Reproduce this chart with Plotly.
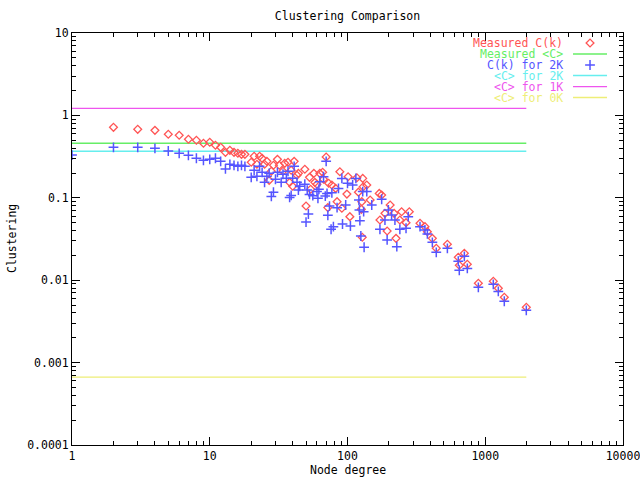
import plotly.graph_objects as go

# ---- data ----
meas_k = [2, 3, 4, 5, 6, 7, 8, 9, 10, 11, 12, 13, 14, 15, 16, 17, 18, 20, 21, 22, 23, 24, 25,
          26, 27, 28, 29, 31, 32, 34, 35, 37, 38, 39, 40, 41, 43, 44, 49, 50, 53, 54, 57, 58,
          60, 63, 66, 67, 70, 72, 73, 77, 82, 84, 88, 91, 99, 101, 104, 117, 120, 126, 127,
          128, 129, 130, 138, 146, 170, 172, 177, 187, 194, 204, 218, 225, 240, 247, 266, 281,
          336, 365, 380, 413, 441, 531, 637, 648, 705, 741, 891, 1144, 1244, 1375, 1986]
meas_c = [0.717, 0.678, 0.659, 0.59, 0.574, 0.513, 0.499, 0.459, 0.472, 0.434, 0.41, 0.356, 0.377,
          0.356, 0.347, 0.337, 0.337, 0.270, 0.319, 0.255, 0.319, 0.301, 0.255,
          0.277, 0.163, 0.210, 0.248, 0.293, 0.248, 0.210, 0.262, 0.270, 0.154, 0.216, 0.138,
          0.277, 0.188, 0.198, 0.222, 0.0794, 0.177, 0.127, 0.198, 0.154,
          0.146, 0.198, 0.204, 0.168, 0.313, 0.076, 0.150, 0.143, 0.130, 0.0897, 0.207, 0.0746,
          0.111, 0.180, 0.059, 0.175, 0.117, 0.0725, 0.0897,
          0.0332, 0.172, 0.136, 0.143, 0.094, 0.113, 0.0538, 0.108, 0.0648, 0.0396, 0.0818,
          0.0648, 0.0322, 0.0538, 0.0678, 0.0499, 0.0678,
          0.0491, 0.0446, 0.0388, 0.0322, 0.0244, 0.0273, 0.0190, 0.0152, 0.0212, 0.0156,
          0.00917, 0.0097, 0.0080, 0.0062, 0.00469]

k2_k = [1, 2, 3, 4, 5, 6, 7, 8, 9, 10, 11, 12, 13, 14, 15, 16, 17, 18, 20, 21, 22, 23, 24, 25,
        26, 27, 28, 29, 30, 31, 33, 34, 36, 37, 38, 39, 40, 41, 43, 44, 45, 49, 50, 51, 52, 53,
        56, 60, 61, 62, 63, 67, 69, 70, 71, 72, 74, 76, 77, 79, 84, 86, 91, 92, 97, 100, 105,
        109, 115, 121, 122, 123, 125, 129, 131, 132, 138, 150, 172, 177, 187, 194, 198, 209,
        221, 228, 240, 266, 276, 336, 365, 380, 413, 441, 531, 637, 648, 705, 741, 891, 1144,
        1244, 1375, 1986]
k2_c = [0.33, 0.41, 0.41, 0.399, 0.37, 0.347, 0.328, 0.302, 0.285, 0.293, 0.302, 0.277, 0.224,
        0.255, 0.248, 0.241, 0.248, 0.241, 0.177, 0.216, 0.182, 0.241, 0.204, 0.154,
        0.182, 0.198, 0.104, 0.117, 0.168, 0.204, 0.154, 0.193, 0.173, 0.210, 0.101, 0.107,
        0.173, 0.241, 0.154, 0.124, 0.138, 0.146, 0.0508, 0.124, 0.0636, 0.110,
        0.106, 0.119, 0.0986, 0.127, 0.157, 0.180, 0.105, 0.277, 0.113, 0.0614, 0.0794, 0.0415,
        0.115, 0.0446, 0.0759, 0.130, 0.172, 0.0481, 0.0818, 0.150, 0.0455,
        0.143, 0.172, 0.094, 0.0711, 0.0527, 0.0344, 0.119, 0.0678, 0.0251, 0.119, 0.0818,
        0.0415, 0.096, 0.0538, 0.0308, 0.0711, 0.0618,
        0.0538, 0.0255, 0.0415, 0.0427, 0.059, 0.0446, 0.0407, 0.0364, 0.0288, 0.0218, 0.0244,
        0.0170, 0.0132, 0.0195, 0.0139, 0.0082, 0.0089,
        0.0073, 0.00555, 0.00431]

avg_meas = 0.459   # Measured <C>
avg_2k = 0.367     # <C> for 2K
avg_1k = 1.22      # <C> for 1K
avg_0k = 0.000668  # <C> for 0K

x_ticks = [1, 10, 100, 1000, 10000]
x_labels = ["1", "10", "100", "1000", "10000"]
y_ticks = [0.0001, 0.001, 0.01, 0.1, 1, 10]
y_labels = ["0.0001", "0.001", "0.01", "0.1", "1", "10"]

RED = "#ff5555"
GREEN = "#66ee66"
BLUE = "#5555ff"
CYAN = "#66eeee"
MAGENTA = "#ee55ee"
YELLOW = "#eeee77"
FONT = "DejaVu Sans Mono"
FS = 11.5

kmax = max(meas_k)

fig = go.Figure()

def hline(val, color):
    fig.add_trace(go.Scatter(x=[1, kmax], y=[val, val], mode="lines",
                             line=dict(color=color, width=1.3), showlegend=False,
                             hoverinfo="skip"))

hline(avg_0k, YELLOW)
hline(avg_1k, MAGENTA)
hline(avg_2k, CYAN)
hline(avg_meas, GREEN)

DIAMOND = dict(symbol="diamond-open", size=6, color=RED, line=dict(width=1.3, color=RED))
CROSS = dict(symbol="cross-thin-open", size=7, color=BLUE, line=dict(width=1.5, color=BLUE))

fig.add_trace(go.Scatter(x=meas_k, y=meas_c, mode="markers", showlegend=False, marker=DIAMOND))
fig.add_trace(go.Scatter(x=k2_k, y=k2_c, mode="markers", showlegend=False, marker=CROSS))

# ---- gnuplot-style key (text right, sample left) ----
key_items = [
    ("Measured C(k)", RED, "diamond"),
    ("Measured &lt;C&gt;", GREEN, "line"),
    ("C(k) for 2K", BLUE, "cross"),
    ("&lt;C&gt; for 2K", CYAN, "line"),
    ("&lt;C&gt; for 1K", MAGENTA, "line"),
    ("&lt;C&gt; for 0K", YELLOW, "line"),
]
row_y = [0.9757, 0.949, 0.9223, 0.8968, 0.870, 0.8434]
text_x = 0.8947
s0, s1 = 0.9093, 0.9710
for (label, col, kind), yy in zip(key_items, row_y):
    fig.add_annotation(x=text_x, y=yy, xref="paper", yref="paper", text=label,
                       showarrow=False, xanchor="right", yanchor="middle",
                       font=dict(family=FONT, size=FS, color=col))
    if kind == "line":
        fig.add_shape(type="line", xref="paper", yref="paper", x0=s0, x1=s1, y0=yy, y1=yy,
                      line=dict(color=col, width=1.3))
    else:
        mk = DIAMOND if kind == "diamond" else CROSS
        fig.add_trace(go.Scatter(x=[(s0 + s1) / 2], y=[yy], xaxis="x2", yaxis="y2",
                                 mode="markers", showlegend=False, hoverinfo="skip",
                                 marker=mk))

x_minor = [m * 10 ** e for e in range(0, 4) for m in range(2, 10)]
y_minor = [m * 10.0 ** e for e in range(-4, 1) for m in range(2, 10)]

def axis_style(minor_vals):
    return dict(showline=True, linecolor="black", linewidth=1, mirror="allticks",
                ticks="inside", ticklen=8, tickcolor="black", showgrid=False,
                zeroline=False, ticklabeloverflow="allow", automargin=False,
                tickfont=dict(family=FONT, size=FS, color="black"),
                minor=dict(tickmode="array", tickvals=minor_vals, ticks="inside",
                           ticklen=4, tickcolor="black", showgrid=False))

fig.update_layout(
    width=640, height=480,
    margin=dict(l=72, r=17, t=33, b=35, autoexpand=False),
    paper_bgcolor="white", plot_bgcolor="white",
    font=dict(family=FONT, size=FS, color="black"),
    title=dict(text="Clustering Comparison", x=0.5, xanchor="center", xref="paper",
               y=1 - 16 / 480, yanchor="middle", font=dict(family=FONT, size=FS)),
    xaxis=dict(type="log", range=[0, 4], tickvals=x_ticks, ticktext=x_labels,
               **axis_style(x_minor)),
    yaxis=dict(type="log", range=[-4, 1], tickvals=y_ticks, ticktext=y_labels,
               **axis_style(y_minor)),
    xaxis2=dict(overlaying="x", range=[0, 1], visible=False, domain=[0, 1]),
    yaxis2=dict(overlaying="y", range=[0, 1], visible=False, domain=[0, 1]),
    showlegend=False,
)

fig.add_annotation(x=0.5, y=-(470 - 445) / 412, xref="paper", yref="paper",
                   text="Node degree", showarrow=False, xanchor="center", yanchor="middle",
                   font=dict(family=FONT, size=FS))
fig.add_annotation(x=-(72 - 12) / 551, y=0.5, xref="paper", yref="paper",
                   text="Clustering", showarrow=False, textangle=-90,
                   xanchor="center", yanchor="middle", font=dict(family=FONT, size=FS))

fig.write_html("out.html", config={"displayModeBar": False},
               post_script="document.body.style.margin='0';")
